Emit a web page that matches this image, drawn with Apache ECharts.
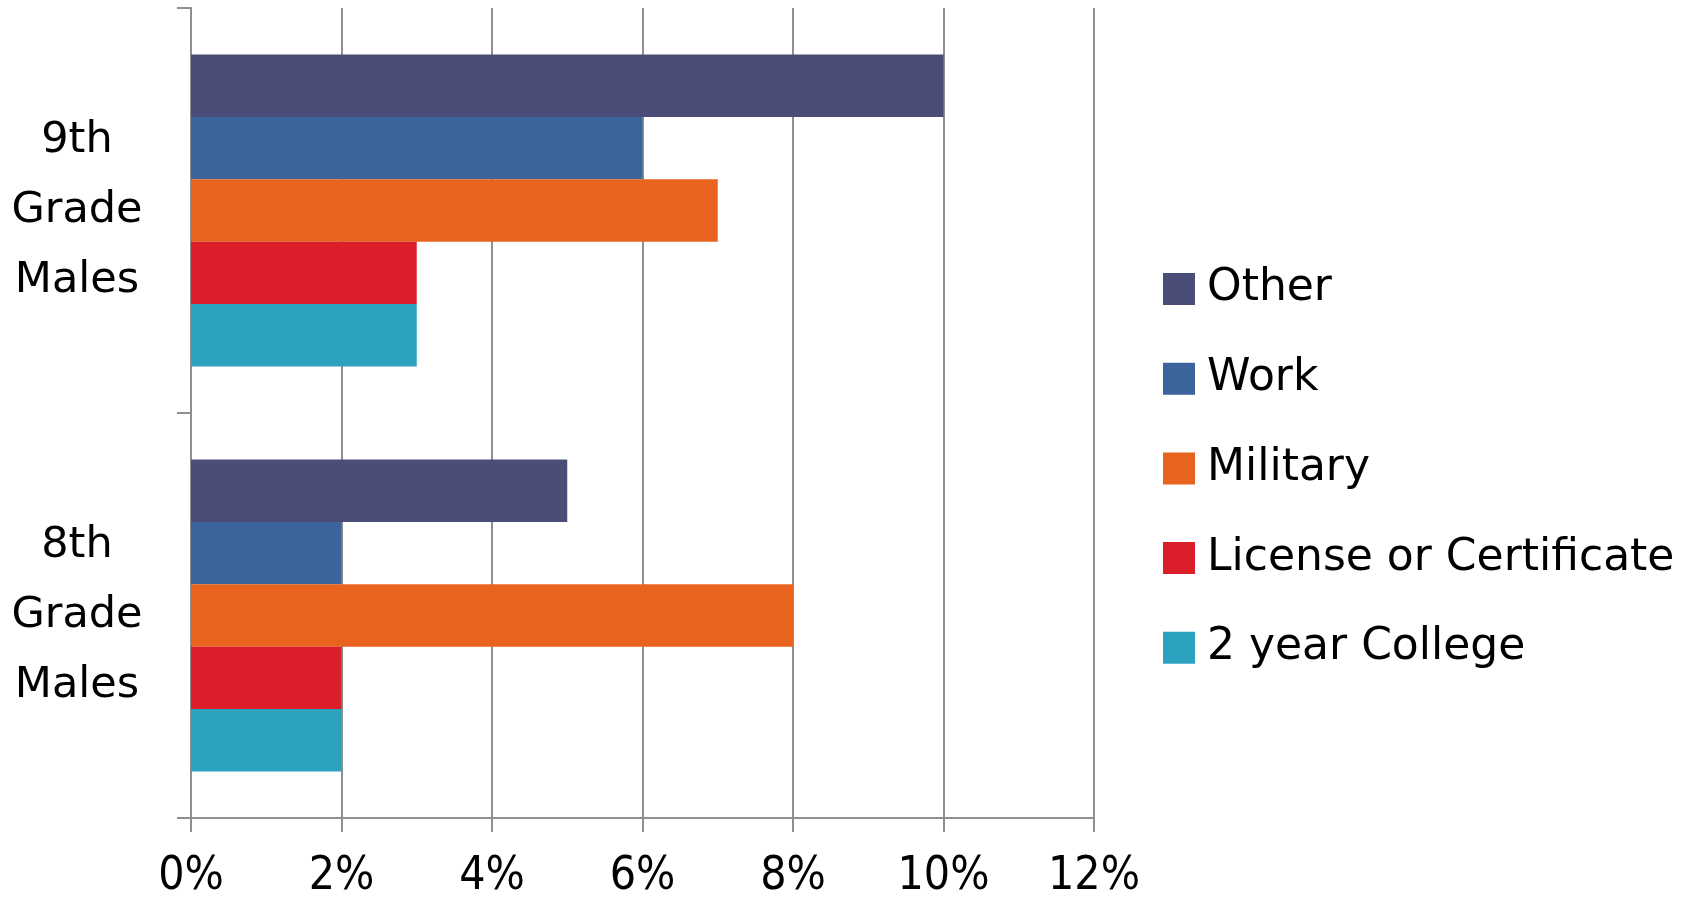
<!DOCTYPE html>
<html>
<head>
<meta charset="utf-8">
<script src="https://cdn.jsdelivr.net/npm/echarts@6/dist/echarts.min.js"></script>
<style>
html,body{margin:0;padding:0;background:#fff;}
#chart{width:1694px;height:901px;}
</style>
</head>
<body>
<div id="chart"></div>
<script>
const categories = ['8th\nGrade\nMales', '9th\nGrade\nMales'];
const seriesNames = ['Other', 'Work', 'Military', 'License or Certificate', '2 year College'];
const otherValues = [5, 10];
const workValues = [2, 6];
const militaryValues = [8, 7];
const licenseValues = [2, 3];
const collegeValues = [2, 3];
const xTicks = [0, 2, 4, 6, 8, 10, 12];
const colors = ['#494D78', '#3A649B', '#E8641E', '#DA1F2A', '#2CA2BF'];

const valueSets = [otherValues, workValues, militaryValues, licenseValues, collegeValues];
const chart = echarts.init(document.getElementById('chart'));
const axisGray = '#8f8f8f';
chart.setOption({
  animation: false,
  backgroundColor: '#ffffff',
  grid: { left: 191, right: 600, top: 8, bottom: 83, containLabel: false },
  legend: {
    orient: 'vertical',
    left: 1158,
    top: 262,
    itemWidth: 32,
    itemHeight: 32,
    itemGap: 45.7,
    icon: 'rect',
    data: seriesNames,
    textStyle: { fontFamily: 'DejaVu Sans', fontSize: 44, color: '#000', padding: [0, 0, 0, 7] }
  },
  xAxis: {
    type: 'value',
    min: xTicks[0],
    max: xTicks[xTicks.length - 1],
    interval: 2,
    axisLine: { show: true, lineStyle: { color: axisGray, width: 2 } },
    axisTick: { show: true, length: 14, lineStyle: { color: axisGray, width: 2 } },
    splitLine: { show: true, lineStyle: { color: axisGray, width: 2 } },
    axisLabel: {
      margin: 36,
      fontFamily: '"Liberation Sans Narrow", "DejaVu Sans Condensed", sans-serif',
      fontSize: 46,
      color: '#000',
      formatter: v => v + '%'
    }
  },
  yAxis: {
    type: 'category',
    data: categories,
    axisLine: { show: true, lineStyle: { color: axisGray, width: 2 } },
    axisTick: { show: true, length: 14, lineStyle: { color: axisGray, width: 2 } },
    axisLabel: {
      margin: 114,
      align: 'center',
      fontFamily: 'DejaVu Sans',
      fontSize: 43,
      lineHeight: 70,
      color: '#000'
    }
  },
  series: seriesNames.map((name, i) => ({
    name: name,
    type: 'bar',
    data: valueSets[i],
    barGap: '0%',
    barCategoryGap: '23%',
    itemStyle: { color: colors[i] }
  }))
});
</script>
</body>
</html>
